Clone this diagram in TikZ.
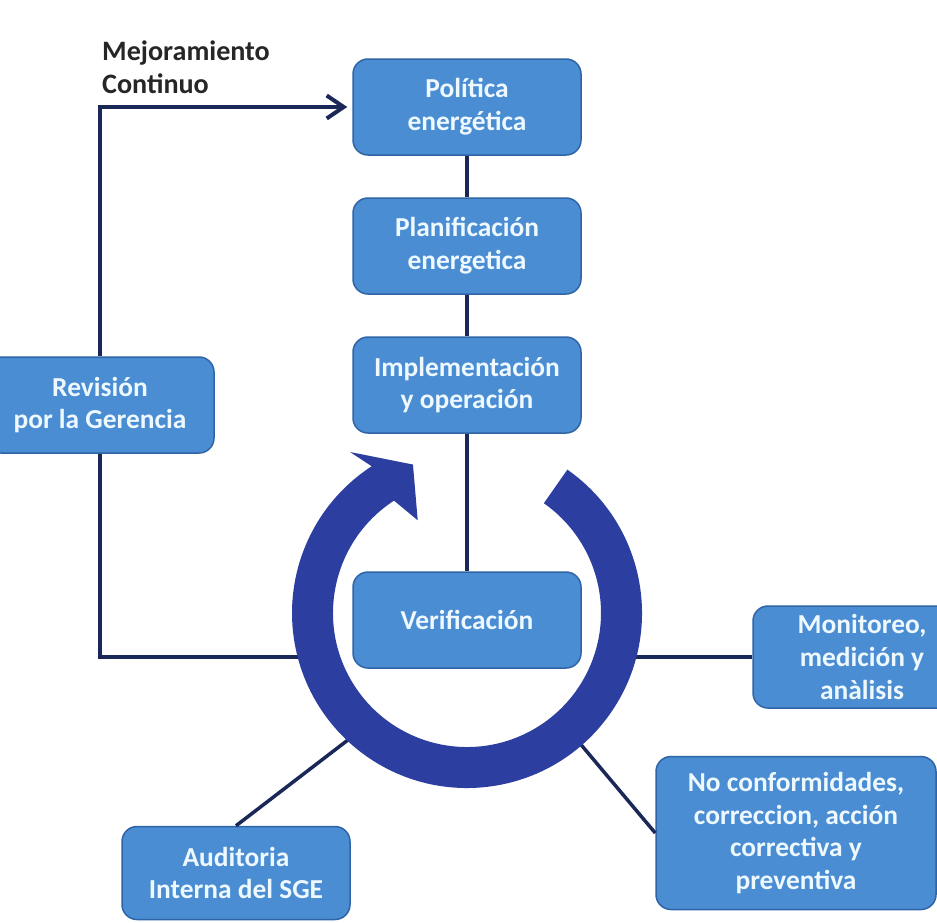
\documentclass[tikz,border=0pt]{standalone}
\usepackage{fontspec}
\setmainfont{Carlito}
\usetikzlibrary{calc,arrows.meta}
\definecolor{boxblue}{HTML}{4A8DD3}
\definecolor{boxedge}{HTML}{2F64A6}
\definecolor{ringblue}{HTML}{2C3E9F}
\definecolor{linenavy}{HTML}{1A2858}
\definecolor{boxtext}{HTML}{EEF8FF}
\tikzset{
  box/.style={draw=boxedge, line width=0.3mm, fill=boxblue, rounded corners=3mm,
    minimum width=45.6mm, minimum height=19.2mm, inner sep=0pt, align=center,
    text=boxtext, font=\bfseries\fontsize{15.6}{18.6}\selectfont},
  link/.style={draw=linenavy, line width=0.7mm}
}
\begin{document}
\begin{tikzpicture}[x=0.2mm, y=-0.2mm]
\useasboundingbox (0,0) rectangle (937,922);
\clip (0,0) rectangle (937,922);
\fill[white] (0,0) rectangle (937,922);
\coordinate (c) at (467,613);
\node[box] (pol) at (467,107) {Política\\energética};
\node[box] (plan) at (467,246) {Planificación\\energetica};
\node[box] (impl) at (467,385) {Implementación\\y operación};
\node[box] (verif) at (467,620) {Verificación};
\node[box] (rev) at (100,405) {Revisión\\por la Gerencia};
\node[box, minimum width=43.6mm, minimum height=20.4mm] (mon) at (862,657) {Monitoreo,\\medición y\\anàlisis};
\node[box, minimum width=56mm, minimum height=30.6mm] (nc) at (796,833) {No conformidades,\\correccion, acción\\correctiva y\\preventiva};
\node[box, minimum height=18.6mm] (aud) at (236,873) {Auditoria\\Interna del SGE};
\node[anchor=south west, align=left, text=black!85, font=\bfseries\fontsize{16}{18.6}\selectfont] (mej) at (96,100) {Mejoramiento\\Continuo};
\draw[link] (pol) -- (plan);
\draw[link] (plan) -- (impl);
\draw[link] (impl) -- (verif);
\draw[link, line width=0.8mm, -{Straight Barb[length=3.4mm, width=4.6mm]}] (rev.north) |- ([xshift=-1mm]pol.west);
\coordinate (cw) at (312,657);
\coordinate (ce) at (615,657);
\coordinate (csw) at ($(c)+(132:155)$);
\coordinate (cse) at ($(c)+(49:155)$);
\draw[link] (rev.south) |- (cw);
\draw[link] (ce) -- (mon.west);
\draw[link] (csw) -- (aud.north);
\draw[link] (cse) -- (nc.west);
\fill[ringblue] ($(c)+(-55:175)$) arc[start angle=-55, end angle=237, radius=175]
  -- ($(c)+(234:199)$) -- ($(c)+(250:158)$) -- ($(c)+(242:105)$)
  -- ($(c)+(237:134)$) arc[start angle=237, end angle=-55, radius=134] -- cycle;
\end{tikzpicture}
\end{document}
